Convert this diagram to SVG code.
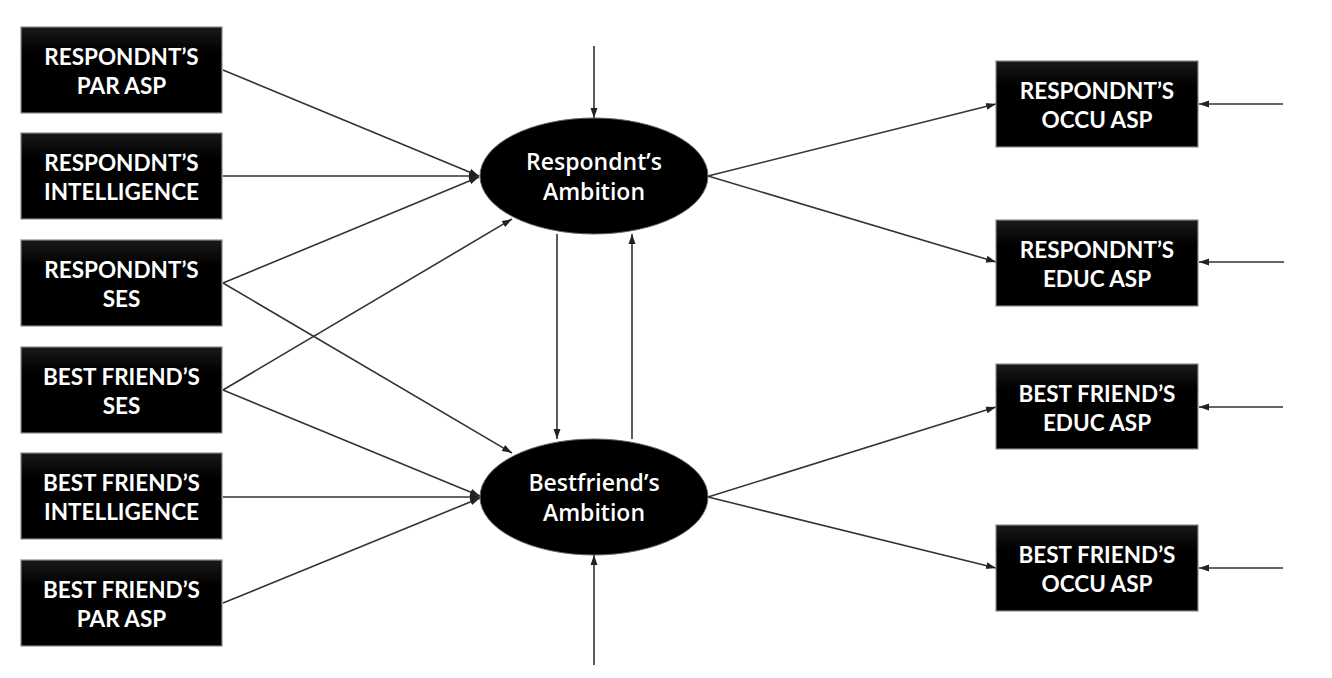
<svg xmlns="http://www.w3.org/2000/svg" width="1332" height="678" viewBox="0 0 1332 678">
<defs>
<marker id="ah" markerUnits="userSpaceOnUse" markerWidth="11" markerHeight="8" refX="10" refY="4" orient="auto">
<path d="M0,0.5 L10,4 L0,7.5 z" fill="#222"/>
</marker>
<linearGradient id="bg" x1="0" y1="0" x2="0" y2="1">
<stop offset="0" stop-color="#1a1a1a"/>
<stop offset="0.3" stop-color="#000"/>
<stop offset="1" stop-color="#000"/>
</linearGradient>
<style>
.box{fill:url(#bg);stroke:#8a8a8a;stroke-width:1.2}
.ell{fill:#000;stroke:#666;stroke-width:1}
.bt{font-family:Lato,"Open Sans",sans-serif;font-weight:bold;font-size:22.5px;fill:#fff;text-anchor:middle}
.et{font-family:"Open Sans",Lato,sans-serif;font-weight:600;font-size:23px;fill:#fff;text-anchor:middle}
.c{stroke:#333;stroke-width:1.6;fill:none;marker-end:url(#ah)}
</style>
</defs>
<rect width="1332" height="678" fill="#fff"/>
<g id="connectors">
<line class="c" x1="223" y1="70" x2="479" y2="176"/>
<line class="c" x1="223" y1="176" x2="479" y2="176"/>
<line class="c" x1="223" y1="283" x2="479" y2="177"/>
<line class="c" x1="223" y1="283" x2="512" y2="453"/>
<line class="c" x1="223" y1="390" x2="512" y2="219"/>
<line class="c" x1="223" y1="390" x2="480" y2="496"/>
<line class="c" x1="223" y1="497" x2="480" y2="497"/>
<line class="c" x1="223" y1="603" x2="480" y2="498"/>
<line class="c" x1="594" y1="46" x2="594" y2="118"/>
<line class="c" x1="594" y1="665" x2="594" y2="555"/>
<line class="c" x1="557" y1="234" x2="557" y2="439"/>
<line class="c" x1="632" y1="439" x2="632" y2="234"/>
<line class="c" x1="708" y1="176" x2="996" y2="104"/>
<line class="c" x1="708" y1="176" x2="996" y2="262"/>
<line class="c" x1="708" y1="497" x2="996" y2="407"/>
<line class="c" x1="708" y1="497" x2="996" y2="568"/>
<line class="c" x1="1283" y1="104" x2="1199" y2="104"/>
<line class="c" x1="1284" y1="262" x2="1199" y2="262"/>
<line class="c" x1="1283" y1="407" x2="1199" y2="407"/>
<line class="c" x1="1283" y1="568" x2="1199" y2="568"/>
</g>
<g id="resp_par_asp"><rect class="box" x="21" y="27" width="201" height="86"/><text class="bt" x="121.5" y="65">RESPONDNT’S</text><text class="bt" x="121.5" y="94">PAR ASP</text></g>
<g id="resp_intelligence"><rect class="box" x="21" y="133" width="201" height="86"/><text class="bt" x="121.5" y="171">RESPONDNT’S</text><text class="bt" x="121.5" y="200">INTELLIGENCE</text></g>
<g id="resp_ses"><rect class="box" x="21" y="240" width="201" height="86"/><text class="bt" x="121.5" y="278">RESPONDNT’S</text><text class="bt" x="121.5" y="307">SES</text></g>
<g id="bf_ses"><rect class="box" x="21" y="347" width="201" height="86"/><text class="bt" x="121.5" y="385">BEST FRIEND’S</text><text class="bt" x="121.5" y="414">SES</text></g>
<g id="bf_intelligence"><rect class="box" x="21" y="453" width="201" height="86"/><text class="bt" x="121.5" y="491">BEST FRIEND’S</text><text class="bt" x="121.5" y="520">INTELLIGENCE</text></g>
<g id="bf_par_asp"><rect class="box" x="21" y="560" width="201" height="86"/><text class="bt" x="121.5" y="598">BEST FRIEND’S</text><text class="bt" x="121.5" y="627">PAR ASP</text></g>
<g id="resp_ambition"><ellipse class="ell" cx="594" cy="176" rx="114" ry="58"/><text class="et" x="594" y="170">Respondnt’s</text><text class="et" x="594" y="200">Ambition</text></g>
<g id="bf_ambition"><ellipse class="ell" cx="594" cy="497" rx="114" ry="58"/><text class="et" x="594" y="491">Bestfriend’s</text><text class="et" x="594" y="521">Ambition</text></g>
<g id="resp_occu_asp"><rect class="box" x="996" y="61" width="202" height="86"/><text class="bt" x="1097" y="99">RESPONDNT’S</text><text class="bt" x="1097" y="128">OCCU ASP</text></g>
<g id="resp_educ_asp"><rect class="box" x="996" y="220" width="202" height="86"/><text class="bt" x="1097" y="258">RESPONDNT’S</text><text class="bt" x="1097" y="287">EDUC ASP</text></g>
<g id="bf_educ_asp"><rect class="box" x="996" y="364" width="202" height="85"/><text class="bt" x="1097" y="402">BEST FRIEND’S</text><text class="bt" x="1097" y="431">EDUC ASP</text></g>
<g id="bf_occu_asp"><rect class="box" x="996" y="525" width="202" height="86"/><text class="bt" x="1097" y="563">BEST FRIEND’S</text><text class="bt" x="1097" y="592">OCCU ASP</text></g>
</svg>
